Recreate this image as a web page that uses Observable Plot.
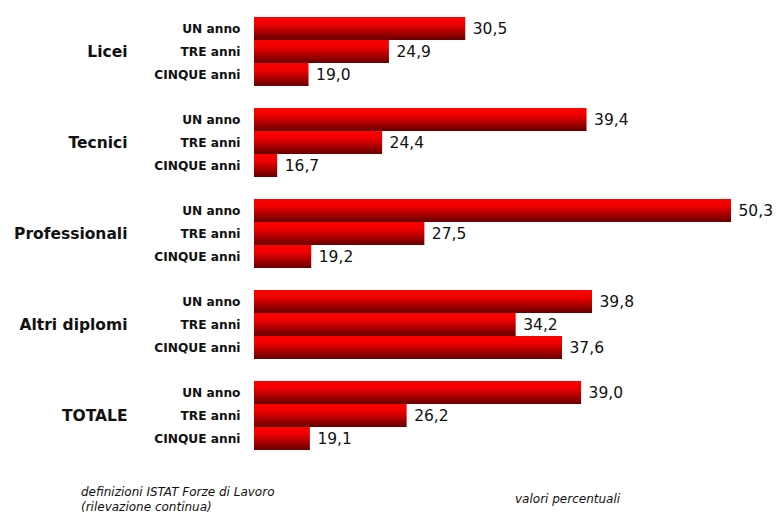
<!DOCTYPE html>
<html><head><meta charset="utf-8">
<script src="https://cdn.jsdelivr.net/npm/d3@7"></script>
<script src="https://cdn.jsdelivr.net/npm/@observablehq/plot@0.6"></script>
<style>
body{margin:0;background:#fff;}
#wrap{position:relative;width:778px;height:514px;}
.cap{position:absolute;font-family:"DejaVu Sans";font-style:italic;font-size:12px;color:#111;line-height:15px;}
</style></head><body>
<div id="wrap"><div id="chart"></div>
<div class="cap" style="left:81px;top:485px">definizioni ISTAT Forze di Lavoro<br>(rilevazione continua)</div>
<div class="cap" style="left:515px;top:492px">valori percentuali</div>
</div>
<script>
const groups = ["Licei", "Tecnici", "Professionali", "Altri diplomi", "TOTALE"];
const periods = ["UN anno", "TRE anni", "CINQUE anni"];
const licei = [30.5, 24.9, 19.0];
const tecnici = [39.4, 24.4, 16.7];
const professionali = [50.3, 27.5, 19.2];
const altri = [39.8, 34.2, 37.6];
const totale = [39.0, 26.2, 19.1];

const series = [licei, tecnici, professionali, altri, totale];
const data = [];
groups.forEach((g, i) => periods.forEach((p, j) => data.push({group: g, period: p, value: series[i][j]})));
const fmt = v => v.toFixed(1).replace(".", ",");

const chart = Plot.plot({
  width: 778,
  height: 514,
  marginLeft: 254,
  marginRight: 46,
  marginTop: 16,
  marginBottom: 63,
  style: {fontFamily: "DejaVu Sans", background: "#fff"},
  x: {domain: [15, 50], range: [254, 731], clamp: true, axis: null},
  y: {domain: periods, padding: 0, label: null},
  fy: {domain: groups, paddingInner: 0.24, paddingOuter: 0, label: null},
  marks: [
    Plot.barX(data, {x: "value", y: "period", fy: "group", fill: "url(#barGrad)"}),
    Plot.text(data, {x: "value", y: "period", fy: "group", text: d => fmt(d.value), dx: 7, textAnchor: "start", fontSize: 15.5, fill: "#111"}),
    Plot.axisY({tickSize: 0, tickPadding: 14, fontSize: 12.2, fontWeight: "bold", fill: "#111", label: null}),
    Plot.axisFy({anchor: "left", tickSize: 0, tickPadding: 127, fontSize: 15.5, fontWeight: "bold", fill: "#111", label: null})
  ]
});

const svg = d3.select(chart);
const defs = svg.insert("defs", ":first-child");
const grad = defs.append("linearGradient").attr("id", "barGrad").attr("x1", 0).attr("y1", 0).attr("x2", 0).attr("y2", 1);
grad.append("stop").attr("offset", "0").attr("stop-color", "#ff0000");
grad.append("stop").attr("offset", "0.3").attr("stop-color", "#f00000");
grad.append("stop").attr("offset", "1").attr("stop-color", "#660000");

document.getElementById("chart").appendChild(chart);
</script>
</body></html>
